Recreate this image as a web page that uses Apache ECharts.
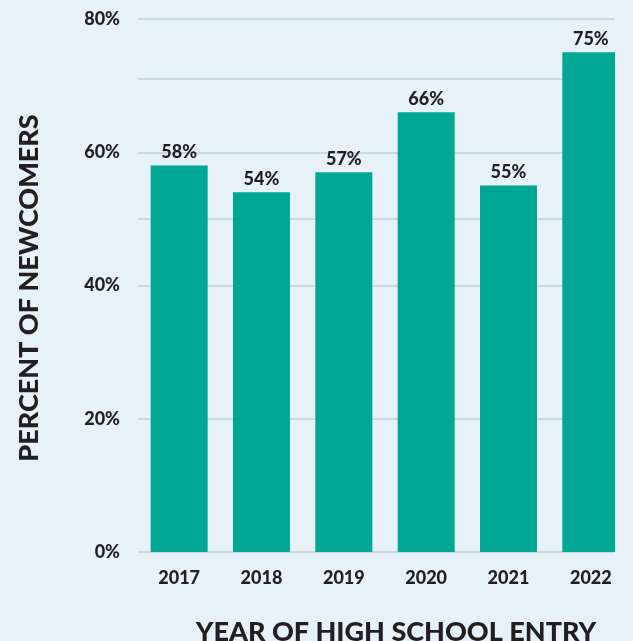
<!DOCTYPE html>
<html>
<head>
<meta charset="utf-8">
<script src="https://cdn.jsdelivr.net/npm/echarts@6/dist/echarts.min.js"></script>
<style>
  html, body { margin: 0; padding: 0; background: #e6f2f7; }
  #main { width: 633px; height: 641px; }
</style>
</head>
<body>
<div id="main"></div>
<script>
// Data
const years = ['2017', '2018', '2019', '2020', '2021', '2022'];
const newcomerPct = [58, 54, 57, 66, 55, 75];
const yTicks = [0, 20, 40, 60, 80];
// the two odd extra rules drawn in the original
const extraRules = [50, 71];

const bg = '#e6f2f7';
const ink = '#231f20';
const teal = '#00a795';
const rule = '#cbd8df';
const font = 'Lato';

let myChart = echarts.init(document.getElementById('main'));

let option = {
    backgroundColor: bg,
    animation: false,
    grid: { left: 138, right: 1, top: 19, bottom: 89 },
    xAxis: {
        type: 'category',
        data: years,
        axisLine: { show: false },
        axisTick: { show: false },
        axisLabel: {
            color: ink, fontFamily: font, fontWeight: 900, fontSize: 18, margin: 17
        }
    },
    yAxis: {
        type: 'value',
        min: yTicks[0],
        max: yTicks[yTicks.length - 1],
        interval: 20,
        axisLine: { show: false },
        axisTick: { show: false },
        axisLabel: {
            formatter: '{value}%',
            color: ink, fontFamily: font, fontWeight: 900, fontSize: 18, margin: 18
        },
        splitLine: { lineStyle: { color: rule, width: 2 } }
    },
    series: [
        {
            // holder for the extra rules, kept behind the bars
            type: 'line',
            data: [],
            z: 0,
            silent: true,
            markLine: {
                silent: true,
                z: 0,
                symbol: 'none',
                label: { show: false },
                lineStyle: { color: rule, width: 2, type: 'solid' },
                data: extraRules.map(v => ({ yAxis: v }))
            }
        },
        {
            name: 'Newcomers',
            type: 'bar',
            data: newcomerPct,
            barWidth: 57,
            z: 3,
            itemStyle: { color: teal },
            label: {
                show: true,
                position: 'top',
                distance: 4,
                formatter: '{c}%',
                color: ink, fontFamily: font, fontWeight: 900, fontSize: 18
            }
        }
    ],
    graphic: [
        {
            // crop edge on the right like the original picture
            type: 'rect', left: 615, top: 0, z: 100,
            shape: { width: 18, height: 560 },
            style: { fill: bg }
        },
        {
            type: 'text', z: 100,
            x: 29, y: 288, rotation: Math.PI / 2,
            style: {
                text: 'PERCENT OF NEWCOMERS',
                fill: ink, font: '900 27px Lato',
                align: 'center', verticalAlign: 'middle'
            }
        },
        {
            type: 'text', z: 100,
            x: 396, y: 632,
            style: {
                text: 'YEAR OF HIGH SCHOOL ENTRY',
                fill: ink, font: '900 27px Lato',
                align: 'center', verticalAlign: 'middle'
            }
        }
    ]
};

myChart.setOption(option);
</script>
</body>
</html>
